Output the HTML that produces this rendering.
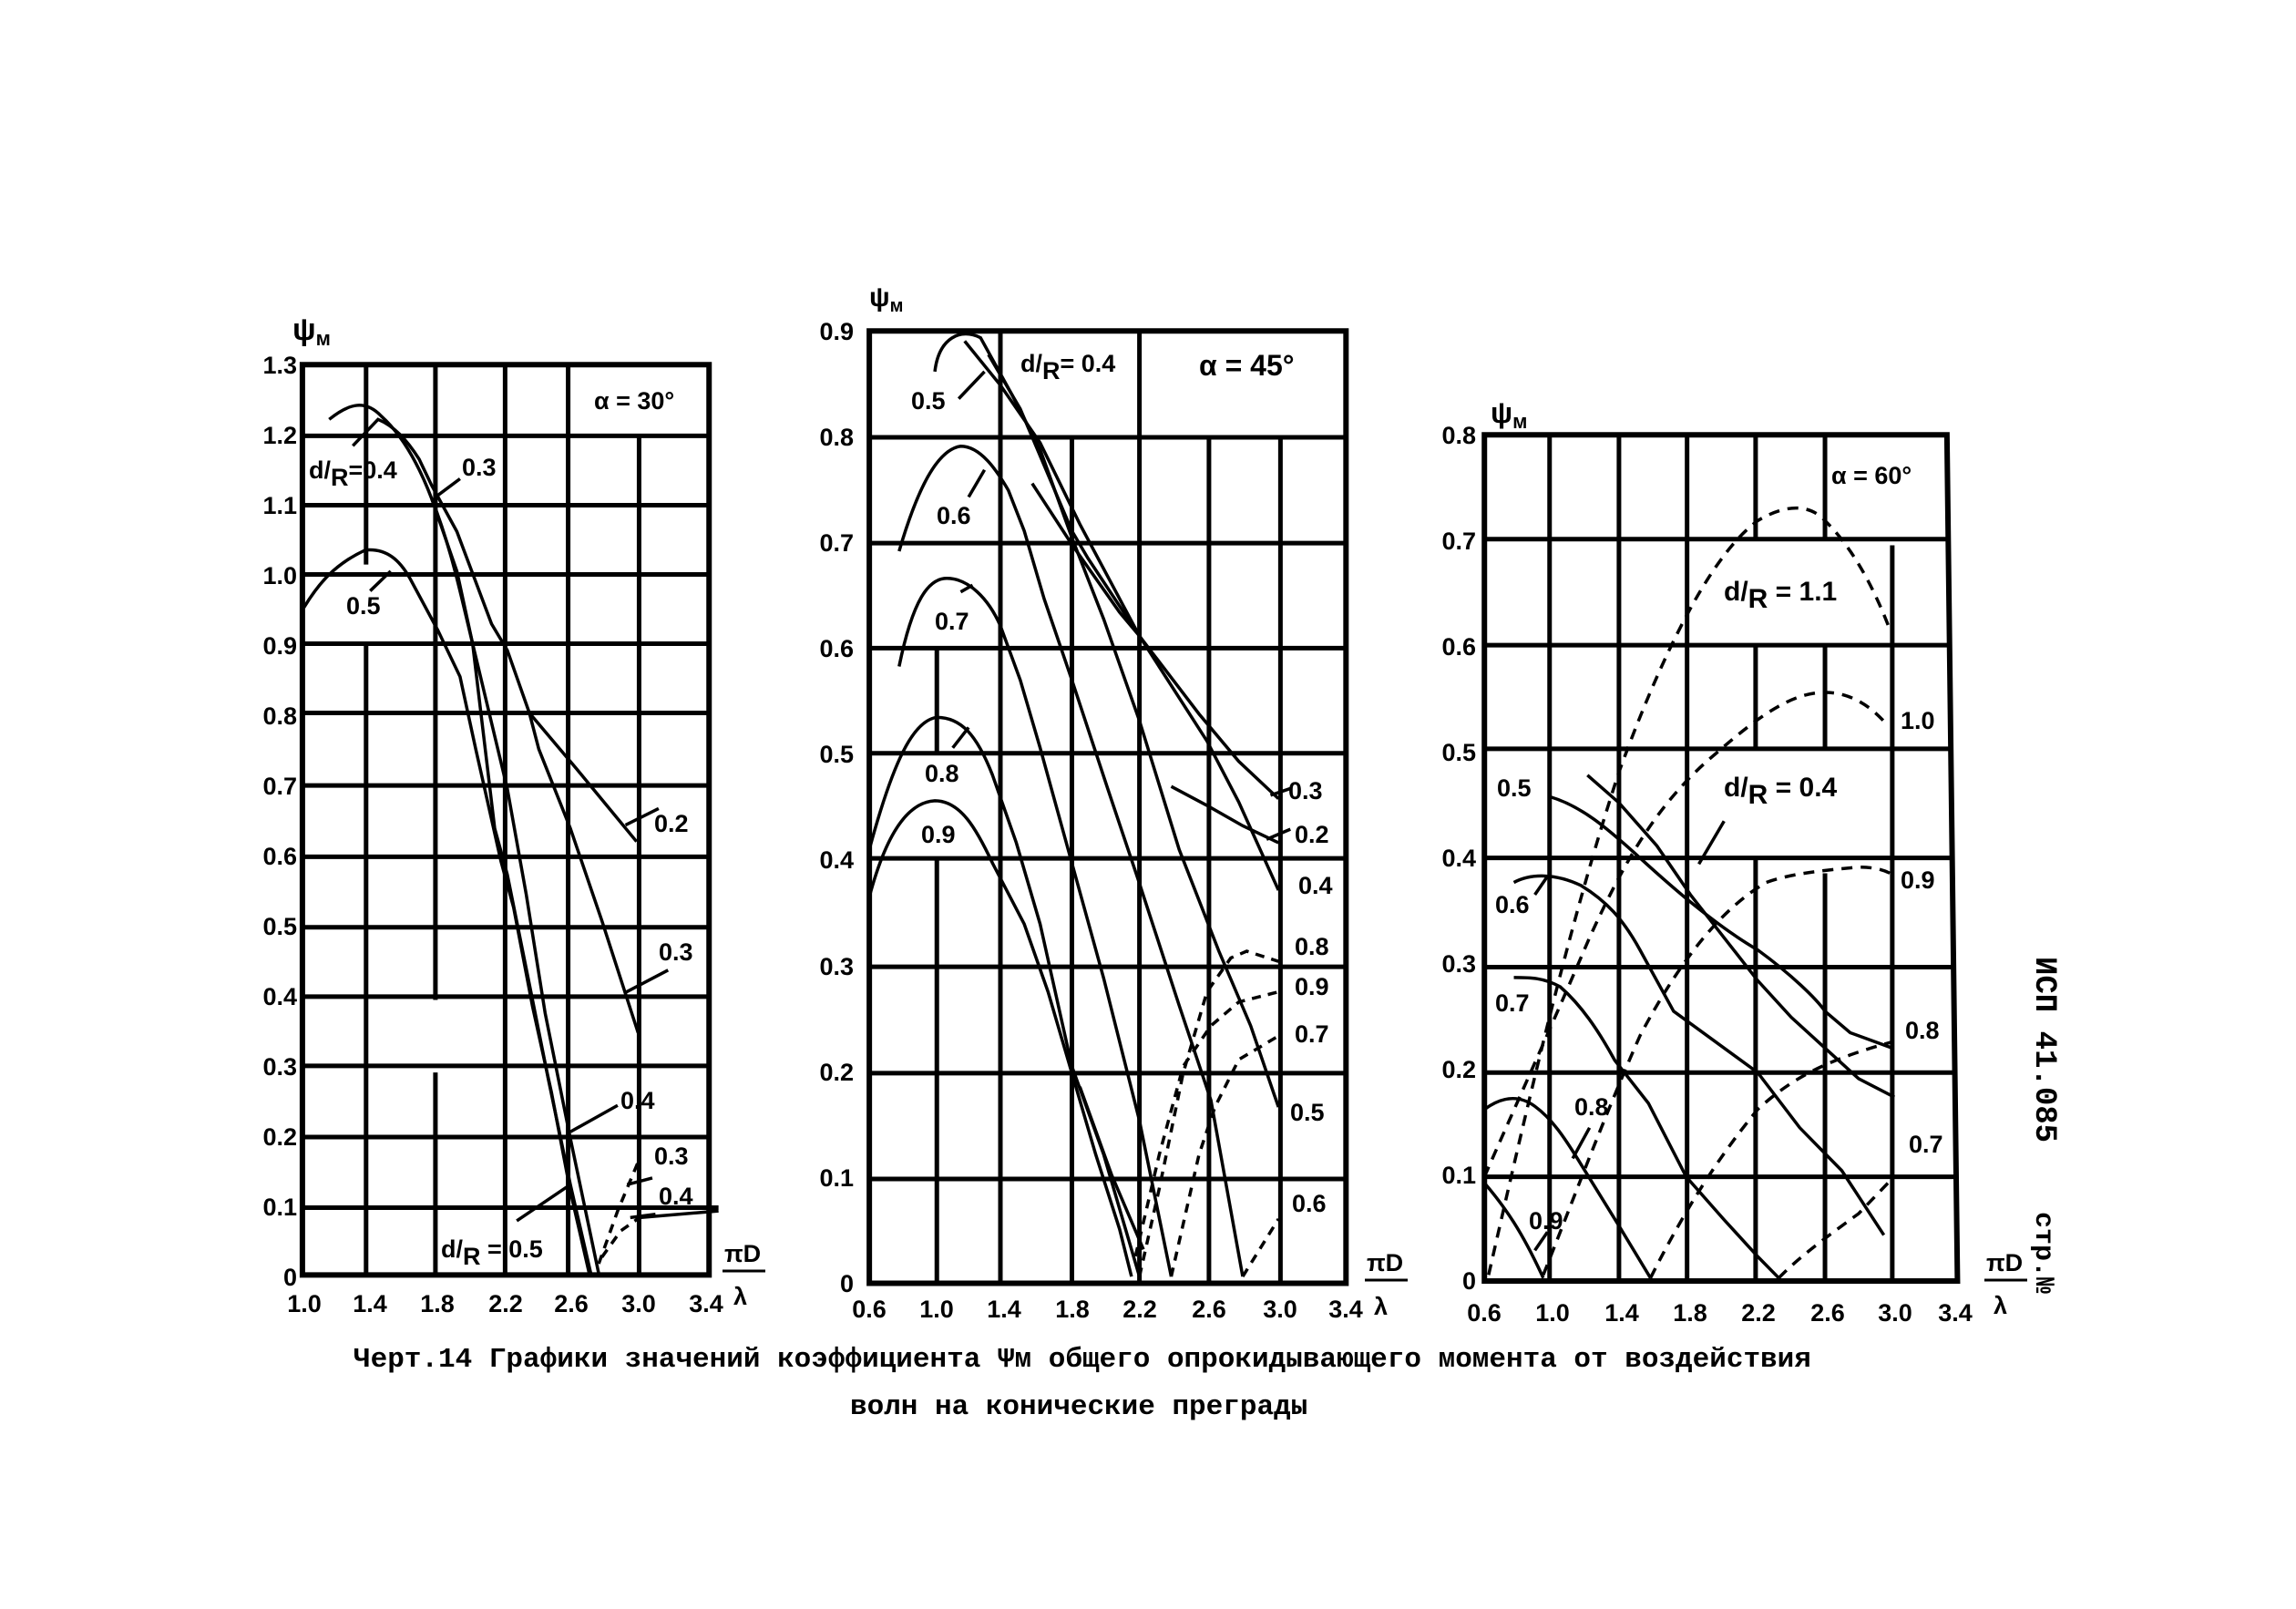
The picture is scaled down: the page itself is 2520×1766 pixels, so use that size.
<!DOCTYPE html>
<html><head><meta charset="utf-8"><style>
html,body{margin:0;padding:0;background:#fff;}
svg{display:block;}
text{font-family:"Liberation Sans",sans-serif;font-weight:bold;fill:#000;}
.t{font-size:27px;}
.m{font-family:"Liberation Mono",monospace;font-weight:bold;font-size:31px;}
</style></head><body>
<svg width="2520" height="1766" viewBox="0 0 2520 1766" xmlns="http://www.w3.org/2000/svg">
<rect width="2520" height="1766" fill="#fff"/>

<!-- ===== CHART 1 ===== -->
<g transform="translate(280,330) scale(0.346,0.724)" fill="none" stroke="#000">
 <g stroke-width="5">
  <path vector-effect="non-scaling-stroke" d="M150,205H1440M150,310H1440M150,415H1440M150,520H1440M150,625H1440M150,735H1440M150,843H1440M150,950H1440M150,1055H1440M150,1160H1440M150,1268H1440M150,1375H1470"/>
  <path vector-effect="non-scaling-stroke" d="M352,97V400M352,520V1477M572,97V1060M572,1170V1477M793,97V1477M993,97V1477M1218,205V1477"/>
 </g>
 <rect x="150" y="97" width="1290" height="1380" stroke-width="6" vector-effect="non-scaling-stroke"/>
 <g stroke-width="3.5">
  <path vector-effect="non-scaling-stroke" d="M235,180 C300,155 350,150 400,175 C470,205 520,250 560,300 C610,360 640,420 660,460 L700,540 L800,740 L860,900 L920,1080 L1000,1270 L1090,1475"/>
  <path vector-effect="non-scaling-stroke" d="M310,220 L390,180 C440,190 480,210 520,240 L560,280 L640,350 L750,490 L800,530 L870,625 L900,680 L1000,800 L1100,940 L1215,1110"/>
  <path vector-effect="non-scaling-stroke" d="M870,625 L1020,710 L1210,820"/>
  <path vector-effect="non-scaling-stroke" d="M155,465 C200,430 250,400 350,378 C420,375 460,395 490,420 L580,500 L650,570 L700,680 L780,850 L820,920 L880,1070 L940,1200 L1000,1350 L1060,1475"/>
  <path vector-effect="non-scaling-stroke" d="M560,300 L640,410 L690,520 L760,800 L800,870 L880,1060 L930,1180 L1000,1340 L1065,1475"/>
  <path vector-effect="non-scaling-stroke" d="M1175,795 L1280,770 M1170,1050 L1310,1015 M1000,1260 L1150,1220 M830,1395 L1000,1340 M1180,1340 L1260,1330 M1190,1390 L1270,1385 M580,295 L650,270 M365,440 L430,410"/>
  <path vector-effect="non-scaling-stroke" d="M1220,1390 L1470,1380"/>
  <path vector-effect="non-scaling-stroke" stroke-dasharray="10,8" d="M1090,1460 L1150,1380 L1220,1300 M1100,1450 L1160,1410 L1220,1390"/>
 </g>
</g>
<g class="t" text-anchor="end">
 <text x="326" y="410">1.3</text><text x="326" y="487">1.2</text><text x="326" y="564">1.1</text><text x="326" y="641">1.0</text><text x="326" y="718">0.9</text><text x="326" y="795">0.8</text><text x="326" y="872">0.7</text><text x="326" y="949">0.6</text><text x="326" y="1026">0.5</text><text x="326" y="1103">0.4</text><text x="326" y="1180">0.3</text><text x="326" y="1257">0.2</text><text x="326" y="1334">0.1</text><text x="326" y="1411">0</text>
</g>
<g class="t" text-anchor="middle">
 <text x="334" y="1440">1.0</text><text x="406" y="1440">1.4</text><text x="480" y="1440">1.8</text><text x="555" y="1440">2.2</text><text x="627" y="1440">2.6</text><text x="701" y="1440">3.0</text><text x="775" y="1440">3.4</text>
</g>
<g class="t">
 <text x="321" y="373" style="font-size:34px">ψ<tspan font-size="22" dy="6">м</tspan></text>
 <text x="652" y="449">α = 30°</text>
 <text x="339" y="525">d/<tspan dy="8">R</tspan><tspan dy="-8">=0.4</tspan></text>
 <text x="507" y="522">0.3</text><text x="380" y="674">0.5</text>
 <text x="718" y="913">0.2</text><text x="723" y="1054">0.3</text><text x="681" y="1217">0.4</text>
 <text x="718" y="1278">0.3</text><text x="723" y="1322">0.4</text>
 <text x="484" y="1380">d/<tspan dy="8">R</tspan><tspan dy="-8"> = 0.5</tspan></text>
 <text x="795" y="1385">πD</text><text x="805" y="1432">λ</text>
</g>
<line x1="793" y1="1395" x2="840" y2="1395" stroke="#000" stroke-width="3"/>

<!-- ===== CHART 2 ===== -->
<g transform="translate(880,300) scale(0.436,0.744)" fill="none" stroke="#000">
 <g stroke-width="5">
  <path vector-effect="non-scaling-stroke" d="M170,242H1370M170,398H1370M170,553H1370M170,708H1370M170,863H1370M170,1023H1370M170,1180H1370M170,1336H1370"/>
  <path vector-effect="non-scaling-stroke" d="M340,553V708M340,863V1490M500,85V1490M680,242V1490M850,85V1490M1025,242V1490M1205,242V1490"/>
 </g>
 <rect x="170" y="85" width="1200" height="1405" stroke-width="6" vector-effect="non-scaling-stroke"/>
 <g stroke-width="3.5">
  <path vector-effect="non-scaling-stroke" d="M410,100 L500,165 L600,250 L700,370 L850,535 L1000,650 L1100,720 L1200,775"/>
  <path vector-effect="non-scaling-stroke" d="M470,120 L550,200 L680,380 L720,420 L850,535 L1020,690 L1100,780 L1200,910"/>
  <path vector-effect="non-scaling-stroke" d="M580,310 L680,400 L800,500 L850,535"/>
  <path vector-effect="non-scaling-stroke" d="M930,757 L1020,785 L1110,815 L1200,840"/>
  <path vector-effect="non-scaling-stroke" d="M335,145 C345,95 400,80 450,95 L530,180 L600,260 L680,390 L760,510 L850,660 L950,850 L1050,1000 L1130,1110 L1200,1230"/>
  <path vector-effect="non-scaling-stroke" d="M245,410 C290,320 340,260 400,255 C450,255 490,290 520,320 L560,380 L610,480 L680,600 L770,760 L850,900 L950,1080 L1030,1220 L1110,1480"/>
  <path vector-effect="non-scaling-stroke" d="M245,580 C280,480 320,450 365,450 C420,450 470,480 500,520 L550,600 L600,700 L680,870 L760,1040 L850,1250 L930,1480"/>
  <path vector-effect="non-scaling-stroke" d="M170,850 C230,720 280,660 340,655 C400,655 440,680 480,740 L540,840 L600,960 L680,1170 L760,1300 L850,1480"/>
  <path vector-effect="non-scaling-stroke" d="M170,920 C220,810 280,780 335,778 C400,778 440,820 480,870 L560,960 L620,1060 L680,1180 L740,1300 L800,1410 L830,1480"/>
  <path vector-effect="non-scaling-stroke" d="M700,1200 L780,1330 L860,1440"/>
  <path vector-effect="non-scaling-stroke" stroke-dasharray="10,8" d="M1110,1480 L1200,1395 M930,1480 L1000,1300 L1040,1230 L1100,1160 L1200,1125 M850,1480 L900,1350 L960,1180 L1020,1060 L1080,1010 L1120,1000 L1200,1015 M840,1450 L900,1300 L960,1170 L1030,1110 L1100,1075 L1200,1060"/>
  <path vector-effect="non-scaling-stroke" d="M395,185 L460,145 M420,330 L460,290 M400,470 L430,460 M380,700 L420,670 M1180,770 L1230,760 M1170,835 L1230,820"/>
 </g>
</g>
<g class="t" text-anchor="end">
 <text x="937" y="373">0.9</text><text x="937" y="489">0.8</text><text x="937" y="605">0.7</text><text x="937" y="721">0.6</text><text x="937" y="837">0.5</text><text x="937" y="953">0.4</text><text x="937" y="1070">0.3</text><text x="937" y="1186">0.2</text><text x="937" y="1302">0.1</text><text x="937" y="1418">0</text>
</g>
<g class="t" text-anchor="middle">
 <text x="954" y="1446">0.6</text><text x="1028" y="1446">1.0</text><text x="1102" y="1446">1.4</text><text x="1177" y="1446">1.8</text><text x="1251" y="1446">2.2</text><text x="1327" y="1446">2.6</text><text x="1405" y="1446">3.0</text><text x="1477" y="1446">3.4</text>
</g>
<g class="t">
 <text x="954" y="336" style="font-size:30px">ψ<tspan font-size="20" dy="6">м</tspan></text>
 <text x="1000" y="449">0.5</text>
 <text x="1120" y="408">d/<tspan dy="8">R</tspan><tspan dy="-8">= 0.4</tspan></text>
 <text x="1316" y="412" style="font-size:32px">α = 45°</text>
 <text x="1028" y="575">0.6</text><text x="1026" y="691">0.7</text><text x="1015" y="858">0.8</text><text x="1011" y="925">0.9</text>
 <text x="1414" y="877">0.3</text><text x="1421" y="925">0.2</text><text x="1425" y="981">0.4</text><text x="1421" y="1048">0.8</text><text x="1421" y="1092">0.9</text><text x="1421" y="1144">0.7</text><text x="1416" y="1230">0.5</text><text x="1418" y="1330">0.6</text>
 <text x="1500" y="1395">πD</text><text x="1508" y="1443">λ</text>
</g>
<line x1="1498" y1="1405" x2="1545" y2="1405" stroke="#000" stroke-width="3"/>

<!-- ===== CHART 3 ===== -->
<g transform="translate(1560,410) scale(0.4615,0.673)" fill="none" stroke="#000">
 <g stroke-width="5">
  <path vector-effect="non-scaling-stroke" d="M150,270H1250M150,443H1255M150,612H1258M150,790H1262M150,968H1265M150,1140H1268M150,1310H1272"/>
  <path vector-effect="non-scaling-stroke" d="M305,100V1480M470,100V1480M632,100V1480M795,100V270M795,443V612M795,790V1480M960,100V270M960,443V612M960,815V1480M1120,280V1480"/>
 </g>
 <path vector-effect="non-scaling-stroke" stroke-width="6" d="M150,100 L1250,100 L1275,1480 L150,1480 Z"/>
 <g stroke-width="3.5">
  <path vector-effect="non-scaling-stroke" stroke-dasharray="12,9" d="M160,1470 C250,1200 350,900 470,650 C560,480 680,300 800,240 C860,215 920,210 960,240 C1020,280 1070,340 1110,410"/>
  <path vector-effect="non-scaling-stroke" stroke-dasharray="12,9" d="M150,1310 C220,1200 300,1080 400,920 C480,800 560,700 700,620 C800,560 880,520 960,520 C1030,520 1080,550 1110,575"/>
  <path vector-effect="non-scaling-stroke" stroke-dasharray="12,9" d="M290,1470 C360,1350 430,1220 520,1080 C620,950 720,870 820,830 C880,815 960,810 1040,805 C1080,805 1100,810 1115,815"/>
  <path vector-effect="non-scaling-stroke" stroke-dasharray="12,9" d="M545,1475 C600,1400 680,1300 800,1200 C880,1150 960,1120 1120,1090"/>
  <path vector-effect="non-scaling-stroke" stroke-dasharray="12,9" d="M850,1475 C900,1440 960,1410 1040,1370 L1110,1320"/>
  <path vector-effect="non-scaling-stroke" d="M305,690 C380,705 440,740 520,790 C600,840 700,900 800,940 C880,980 940,1020 960,1040 L1020,1075 L1120,1100"/>
  <path vector-effect="non-scaling-stroke" d="M395,655 L470,700 L560,770 L640,850 L720,920 L800,990 L880,1050 L960,1100 L1040,1150 L1125,1180"/>
  <path vector-effect="non-scaling-stroke" d="M220,830 C260,815 320,815 380,835 C440,860 480,890 520,940 L600,1040 L700,1090 L800,1140 L900,1230 L1000,1300 L1100,1405"/>
  <path vector-effect="non-scaling-stroke" d="M220,985 C260,985 290,985 330,1000 C380,1030 420,1070 460,1120 L540,1190 L630,1310 L720,1380 L800,1440 L850,1475"/>
  <path vector-effect="non-scaling-stroke" d="M150,1200 C190,1180 230,1175 270,1195 C310,1215 340,1245 380,1290 L470,1390 L545,1475"/>
  <path vector-effect="non-scaling-stroke" d="M150,1320 C200,1360 240,1400 290,1475"/>
  <path vector-effect="non-scaling-stroke" d="M270,850 L300,820 M270,1430 L300,1400 M660,800 L720,730 M360,1280 L400,1230"/>
 </g>
</g>
<g class="t" text-anchor="end">
 <text x="1620" y="487">0.8</text><text x="1620" y="603">0.7</text><text x="1620" y="719">0.6</text><text x="1620" y="835">0.5</text><text x="1620" y="951">0.4</text><text x="1620" y="1067">0.3</text><text x="1620" y="1183">0.2</text><text x="1620" y="1299">0.1</text><text x="1620" y="1415">0</text>
</g>
<g class="t" text-anchor="middle">
 <text x="1629" y="1450">0.6</text><text x="1704" y="1450">1.0</text><text x="1780" y="1450">1.4</text><text x="1855" y="1450">1.8</text><text x="1930" y="1450">2.2</text><text x="2006" y="1450">2.6</text><text x="2080" y="1450">3.0</text><text x="2146" y="1450">3.4</text>
</g>
<g class="t">
 <text x="1636" y="464" style="font-size:32px">ψ<tspan font-size="22" dy="6">м</tspan></text>
 <text x="2010" y="531">α = 60°</text>
 <text x="1892" y="659" style="font-size:30px">d/<tspan dy="8">R</tspan><tspan dy="-8"> = 1.1</tspan></text>
 <text x="2086" y="800">1.0</text>
 <text x="1892" y="874" style="font-size:30px">d/<tspan dy="8">R</tspan><tspan dy="-8"> = 0.4</tspan></text>
 <text x="1643" y="874">0.5</text><text x="1641" y="1002">0.6</text><text x="1641" y="1110">0.7</text><text x="1728" y="1224">0.8</text><text x="1678" y="1349">0.9</text>
 <text x="2086" y="975">0.9</text><text x="2091" y="1140">0.8</text><text x="2095" y="1265">0.7</text>
 <text x="2180" y="1395">πD</text><text x="2188" y="1442">λ</text>
</g>
<line x1="2178" y1="1405" x2="2225" y2="1405" stroke="#000" stroke-width="3"/>
<text class="m" transform="translate(2235,1050) rotate(90)" style="font-size:34px">ИСП 41.085</text>
<text class="m" transform="translate(2235,1330) rotate(90)" style="font-size:30px">стр.№</text>

<!-- caption -->
<text class="m" x="388" y="1500">Черт.14 Графики значений коэффициента Ψм общего опрокидывающего момента от воздействия</text>
<text class="m" x="933" y="1552">волн на конические преграды</text>
</svg>
</body></html>
